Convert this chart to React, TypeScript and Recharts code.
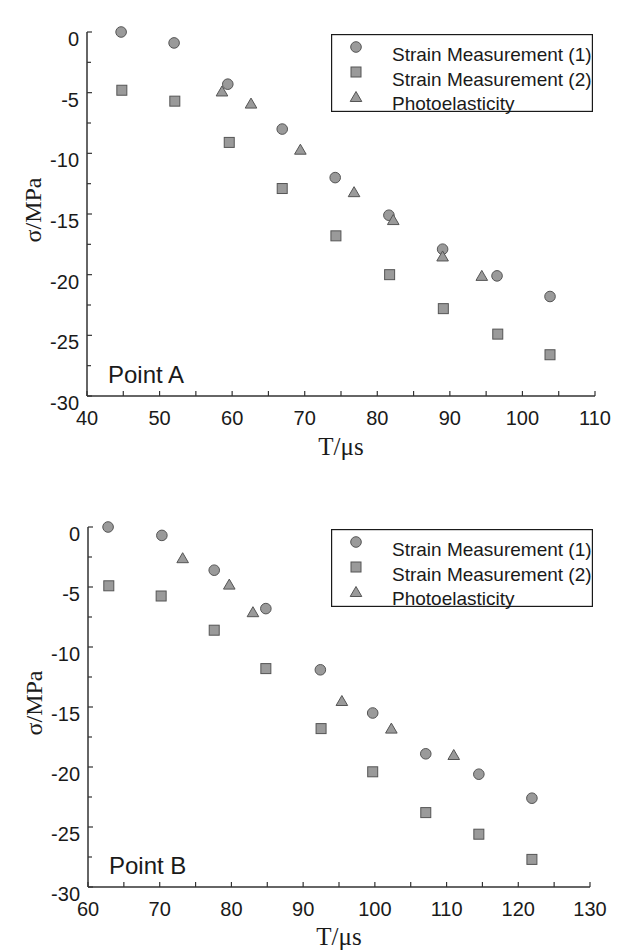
import { Legend, Scatter, ScatterChart, XAxis, YAxis } from "recharts";

const INK = "#1a1a1a";
const AXIS = "#333";
const FILL = "#9a9a9a";
const EDGE = "#555";
const SANS = '"Liberation Sans", Arial, sans-serif';
const SERIF = '"Liberation Serif", "Times New Roman", serif';

// Point A readings (time in µs, stress in MPa)
const strain1TimeA = [44.7, 52.0, 59.4, 66.9, 74.2, 81.6, 89.0, 96.5, 103.8];
const strain1StressA = [0, -0.9, -4.3, -8.0, -12.0, -15.1, -17.9, -20.1, -21.8];
const strain2TimeA = [44.8, 52.1, 59.6, 66.9, 74.3, 81.7, 89.1, 96.6, 103.8];
const strain2StressA = [-4.8, -5.7, -9.1, -12.9, -16.8, -20.0, -22.8, -24.9, -26.6];
const photoTimeA = [58.6, 62.6, 69.4, 76.8, 82.2, 89.0, 94.4];
const photoStressA = [-4.9, -5.9, -9.7, -13.2, -15.5, -18.5, -20.1];

// Point B readings
const strain1TimeB = [62.8, 70.3, 77.6, 84.8, 92.4, 99.7, 107.1, 114.5, 121.9];
const strain1StressB = [0, -0.7, -3.6, -6.8, -11.9, -15.5, -18.9, -20.6, -22.6];
const strain2TimeB = [62.9, 70.2, 77.6, 84.8, 92.5, 99.7, 107.1, 114.5, 121.9];
const strain2StressB = [-4.9, -5.75, -8.6, -11.8, -16.8, -20.4, -23.8, -25.6, -27.7];
const photoTimeB = [73.2, 79.7, 83.0, 95.4, 102.3, 111.0];
const photoStressB = [-2.6, -4.8, -7.1, -14.5, -16.8, -19.0];

const stressTicks = [-30, -27.5, -25, -22.5, -20, -17.5, -15, -12.5, -10, -7.5, -5, -2.5, 0];
const timeTicksA = [40, 45, 50, 55, 60, 65, 70, 75, 80, 85, 90, 95, 100, 105, 110];
const timeTicksB = [60, 65, 70, 75, 80, 85, 90, 95, 100, 105, 110, 115, 120, 125, 130];

const methods = ["Strain Measurement (1)", "Strain Measurement (2)", "Photoelasticity"];

const toPoints = (t: number[], s: number[]) => t.map((x, i) => ({ t: x, s: s[i] }));

function CircleMark({ cx, cy }: any) {
  return <circle cx={cx} cy={cy} r={5.3} fill={FILL} stroke={EDGE} strokeWidth={1} />;
}

function SquareMark({ cx, cy }: any) {
  return <rect x={cx - 5} y={cy - 5} width={10} height={10} fill={FILL} stroke={EDGE} strokeWidth={1} />;
}

function TriangleMark({ cx, cy }: any) {
  return (
    <polygon
      points={`${cx},${cy - 5.5} ${cx + 5.8},${cy + 4.5} ${cx - 5.8},${cy + 4.5}`}
      fill={FILL}
      stroke={EDGE}
      strokeWidth={1}
    />
  );
}

const marks = [CircleMark, SquareMark, TriangleMark];

// inward ticks on the stress axis, labels only on the multiples of 5
function StressTick({ x, y, payload }: any) {
  const major = payload.value % 5 === 0;
  return (
    <g>
      <line x1={x} x2={x + (major ? 5 : 4)} y1={y} y2={y} stroke={AXIS} strokeWidth={1.2} />
      {major && (
        <text x={x - 8} y={y + 7} textAnchor="end" dominantBaseline="central" fontSize={20} fontFamily={SANS} fill={INK}>
          {payload.value}
        </text>
      )}
    </g>
  );
}

function TimeTick({ x, y, payload }: any) {
  const major = payload.value % 10 === 0;
  return (
    <g>
      <line x1={x} x2={x} y1={y} y2={y - 5} stroke={AXIS} strokeWidth={1.2} />
      {major && (
        <text x={x} y={y + 22} textAnchor="middle" dominantBaseline="central" fontSize={20} fontFamily={SANS} fill={INK}>
          {payload.value}
        </text>
      )}
    </g>
  );
}

function MethodLegend() {
  return (
    <svg width={262} height={78} style={{ display: "block", overflow: "visible" }}>
      <rect x={0.6} y={0.6} width={260.8} height={76.8} fill="#fff" stroke={INK} strokeWidth={1.2} />
      {methods.map((name, i) => {
        const Mark = marks[i];
        return (
          <g key={name}>
            <Mark cx={25} cy={13 + i * 25} />
            <text x={61} y={27 + i * 24.5} fontSize={19} fontFamily={SANS} fill={INK}>
              {name}
            </text>
          </g>
        );
      })}
    </svg>
  );
}

function StressPanel({
  series,
  timeDomain,
  timeTicks,
  tag,
  height,
  margin,
  titleGap,
}: {
  series: { t: number; s: number }[][];
  timeDomain: [number, number];
  timeTicks: number[];
  tag: string;
  height: number;
  margin: { top: number; right: number; bottom: number; left: number };
  titleGap: number;
}) {
  return (
    <ScatterChart width={622} height={height} margin={margin}>
      <XAxis
        type="number"
        dataKey="t"
        domain={timeDomain}
        ticks={timeTicks}
        interval={0}
        height={1}
        tickLine={false}
        tickSize={0}
        tickMargin={0}
        tick={TimeTick}
        axisLine={{ stroke: AXIS, strokeWidth: 1.5 }}
        label={({ viewBox }: any) => (
          <g>
            <text
              x={viewBox.x + viewBox.width / 2}
              y={viewBox.y + titleGap}
              textAnchor="middle"
              fontSize={25}
              fontFamily={SERIF}
              fill={INK}
            >
              T/μs
            </text>
            <text x={viewBox.x + 21} y={viewBox.y - 13} fontSize={24} fontFamily={SANS} fill={INK}>
              {tag}
            </text>
          </g>
        )}
      />
      <YAxis
        type="number"
        dataKey="s"
        domain={[-30, 0]}
        ticks={stressTicks}
        interval={0}
        width={1}
        tickLine={false}
        tickSize={0}
        tickMargin={0}
        tick={StressTick}
        axisLine={{ stroke: AXIS, strokeWidth: 1.5 }}
        label={({ viewBox }: any) => (
          <text
            transform={`translate(${viewBox.x - 45}, ${viewBox.y + viewBox.height / 2 - 4}) rotate(-90)`}
            textAnchor="middle"
            fontSize={24}
            fontFamily={SERIF}
            fill={INK}
          >
            σ/MPa
          </text>
        )}
      />
      <Legend
        layout="horizontal"
        verticalAlign="middle"
        align="center"
        wrapperStyle={{ left: 331, top: margin.top + 2, width: 262 }}
        content={() => <MethodLegend />}
      />
      {series.map((data, i) => (
        <Scatter
          key={methods[i]}
          name={methods[i]}
          data={data}
          shape={marks[i]}
          isAnimationActive={false}
        />
      ))}
    </ScatterChart>
  );
}

export default function App() {
  const seriesA = [
    toPoints(strain1TimeA, strain1StressA),
    toPoints(strain2TimeA, strain2StressA),
    toPoints(photoTimeA, photoStressA),
  ];
  const seriesB = [
    toPoints(strain1TimeB, strain1StressB),
    toPoints(strain2TimeB, strain2StressB),
    toPoints(photoTimeB, photoStressB),
  ];
  return (
    <div style={{ position: "absolute", left: 0, top: 0, width: 622, height: 950, background: "#fff" }}>
      <div style={{ position: "absolute", left: 0, top: 0 }}>
        <StressPanel
          series={seriesA}
          timeDomain={[40, 110]}
          timeTicks={timeTicksA}
          tag="Point A"
          height={470}
          margin={{ top: 32, right: 27, bottom: 73, left: 86 }}
          titleGap={59}
        />
      </div>
      <div style={{ position: "absolute", left: 0, top: 470 }}>
        <StressPanel
          series={seriesB}
          timeDomain={[60, 130]}
          timeTicks={timeTicksB}
          tag="Point B"
          height={480}
          margin={{ top: 57, right: 32, bottom: 62, left: 87 }}
          titleGap={58}
        />
      </div>
    </div>
  );
}
